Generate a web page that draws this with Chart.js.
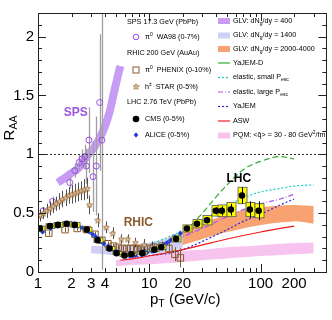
<!DOCTYPE html>
<html><head><meta charset="utf-8">
<script src="https://cdn.jsdelivr.net/npm/chart.js@4.4.1/dist/chart.umd.min.js"></script>
<style>html,body{margin:0;padding:0;background:#fff;}#wrap{width:332px;height:320px;}</style>
</head><body><div id="wrap"><canvas id="c" width="332" height="320"></canvas></div>
<script>
// ---------------- data ----------------
const xTicks=[1,2,3,4,10,20,100,200];
const yTicks=[0,0.5,1,1.5,2];

// SPS 17.3 GeV, WA98 pi0
const wa98Pt=[1.11,1.35,1.93,2.14,2.34,2.49,2.63,2.72,2.87,3.12,3.34,3.58,3.75];
const wa98R =[0.52,0.60,0.76,0.86,0.93,0.96,0.98,0.90,1.12,0.81,0.90,1.44,1.12];
const wa98Err=[0.03,0.04,0.05,0.06,0.07,0.08,0.1,0.15,0.28,0.3,0.42,0.58,1.1];

// RHIC PHENIX pi0
const phenixPt=[1.25,1.75,2.25,2.75,3.25,3.75,4.25,4.75,5.25,5.75,6.25,6.75,7.25,7.75,8.5,9.5,11,13,15,17,19];
const phenixR =[0.33,0.36,0.37,0.36,0.32,0.27,0.24,0.22,0.21,0.20,0.20,0.20,0.20,0.19,0.20,0.20,0.21,0.22,0.20,0.15,0.12];
const phenixErr=[0.02,0.02,0.02,0.02,0.02,0.02,0.02,0.02,0.02,0.02,0.02,0.02,0.02,0.02,0.02,0.02,0.03,0.04,0.05,0.06,0.08];

// RHIC STAR h+-
const starPt=[1.05,1.12,1.2,1.28,1.37,1.46,1.56,1.66,1.77,1.89,2.01,2.15,2.29,2.44,2.6,2.77,2.9,3.45,4.1,4.7,5.6,6.4,7.5,9.0,10.5];
const starR =[0.48,0.50,0.52,0.54,0.56,0.58,0.60,0.62,0.63,0.65,0.66,0.67,0.68,0.69,0.70,0.71,0.57,0.44,0.38,0.33,0.28,0.28,0.25,0.23,0.21];
const starErr=[0.05,0.05,0.06,0.06,0.06,0.06,0.07,0.07,0.07,0.07,0.08,0.08,0.08,0.08,0.09,0.09,0.08,0.06,0.05,0.05,0.04,0.04,0.04,0.05,0.05];

// LHC CMS charged hadrons
const cmsPt=[1.04,1.28,1.51,1.81,2.14,2.74,3.43,4.39,5.08,5.98,6.91,8.66,11.1,12.8,17.4,21.8,26.8,33,39.6,44.8,54,68,80,96];
const cmsR =[0.37,0.39,0.40,0.41,0.40,0.36,0.27,0.20,0.16,0.14,0.15,0.16,0.19,0.21,0.28,0.37,0.41,0.44,0.52,0.52,0.53,0.65,0.53,0.52];
const cmsStat=[0.005,0.005,0.005,0.005,0.005,0.005,0.005,0.005,0.005,0.005,0.005,0.005,0.01,0.01,0.01,0.015,0.02,0.025,0.03,0.04,0.05,0.07,0.07,0.08];
const cmsSys=[0.02,0.02,0.02,0.02,0.02,0.02,0.02,0.015,0.012,0.01,0.01,0.012,0.015,0.02,0.025,0.03,0.035,0.04,0.045,0.05,0.06,0.07,0.06,0.06];

// LHC ALICE charged hadrons
const alicePt=[1.1,1.3,1.5,1.7,1.9,2.1,2.3,2.5,2.7,2.9,3.1,3.3,3.5,3.7,3.9,4.25,4.75,5.25,5.75,6.5,7.5,8.5,9.5,10.5,11.5,12.5,13.5,14.5,15.5,17,19];
const aliceR =[0.34,0.37,0.39,0.40,0.405,0.40,0.39,0.375,0.36,0.34,0.32,0.30,0.28,0.26,0.24,0.22,0.19,0.17,0.155,0.145,0.14,0.15,0.165,0.18,0.195,0.21,0.23,0.25,0.27,0.30,0.33];

// Models
const glv400Pt=[1.5,1.75,2.0,2.3,2.6,2.9,3.2,3.6,4.0,4.4,4.8,5.2,5.5];
const glv400R =[0.76,0.80,0.84,0.88,0.95,1.01,1.06,1.14,1.24,1.36,1.52,1.66,1.75];

const glv1400Pt=[3,4,5,7,10,14,20];
const glv1400Lo=[0.16,0.15,0.14,0.14,0.15,0.17,0.20];
const glv1400Hi=[0.22,0.22,0.22,0.23,0.25,0.28,0.32];

const glvLhcPt=[7,10,15,20,30,50,100,200,300];
const glvLhcLo=[0.15,0.17,0.20,0.23,0.28,0.34,0.40,0.43,0.41];
const glvLhcHi=[0.20,0.24,0.29,0.34,0.41,0.49,0.55,0.57,0.56];

const pqmPt=[5,7,10,12,20,30,50,80,150,300];
const pqmLo=[0.05,0.06,0.065,0.07,0.085,0.10,0.115,0.13,0.145,0.16];
const pqmHi=[0.10,0.12,0.14,0.16,0.18,0.19,0.21,0.22,0.24,0.25];

const yajemDPt=[9,12,15,20,25,30,40,50,70,100,150,200];
const yajemDR =[0.18,0.22,0.27,0.33,0.42,0.50,0.64,0.74,0.87,0.94,0.98,0.96];

const elSmallPt=[8,10,15,20,30,50,70,100,150,200,300];
const elSmallR =[0.20,0.23,0.30,0.35,0.44,0.56,0.63,0.68,0.71,0.73,0.74];

const elLargePt=[8,10,15,20,30,50,70,100,150,200];
const elLargeR =[0.18,0.20,0.25,0.30,0.37,0.47,0.53,0.58,0.62,0.66];

const yajemPt=[6,10,15,20,30,50,70,100,150,200];
const yajemR =[0.12,0.14,0.16,0.19,0.26,0.36,0.43,0.49,0.57,0.62];

const aswPt=[5.5,8,12,20,30,50,100,150,200];
const aswR =[0.10,0.12,0.15,0.19,0.23,0.28,0.34,0.37,0.39];

// ---------------- helpers ----------------
const pts=(xs,ys)=>xs.map((x,i)=>({x:x,y:ys[i]}));
const C={
  glv400:'#c89cf4', glv1400:'#cfcff7', glvLhc:'#f9a271', pqm:'#f7c4ef',
  green:'#33aa33', cyan:'#11cccc', violet:'#a455ee', blue:'#2a2ae0', red:'#ee1a1a',
  wa98:'#9a4aee', phenix:'#8b5a2b', star:'#9b6b3b', cms:'#000000', alice:'#1b3fd6', yellow:'#ffff00'
};
function starImg(size){
  const c=document.createElement('canvas'); c.width=size; c.height=size;
  const g=c.getContext('2d'); const cx=size/2, cy=size/2+0.3, R=size/2-0.5, r=R*0.45;
  g.beginPath();
  for(let i=0;i<10;i++){const a=-Math.PI/2+i*Math.PI/5; const rr=i%2?r:R; g.lineTo(cx+rr*Math.cos(a),cy+rr*Math.sin(a));}
  g.closePath(); g.fillStyle='#e8d3ae'; g.fill(); g.strokeStyle=C.star; g.lineWidth=0.9; g.stroke();
  return c;
}
const starMarker=starImg(7);

const datasets=[];
function addBand(xs,lo,hi,color,order){
  const i=datasets.length;
  datasets.push({data:pts(xs,lo),borderWidth:0,pointRadius:0,fill:false,order:order,tension:0.3});
  datasets.push({data:pts(xs,hi),borderWidth:0,pointRadius:0,fill:{target:i},backgroundColor:color,order:order,tension:0.3});
}
addBand(pqmPt,pqmLo,pqmHi,C.pqm,20);
addBand(glv1400Pt,glv1400Lo,glv1400Hi,C.glv1400,20);
addBand(glvLhcPt,glvLhcLo,glvLhcHi,C.glvLhc,20);
datasets.push({data:pts(glv400Pt,glv400R),borderColor:C.glv400,borderWidth:8,borderCapStyle:'butt',pointRadius:0,fill:false,order:19,tension:0.3});
function addLine(xs,ys,color,dash,order){
  datasets.push({data:pts(xs,ys),borderColor:color,borderWidth:1.2,borderDash:dash,pointRadius:0,fill:false,order:order,cubicInterpolationMode:'monotone'});
}
addLine(aswPt,aswR,C.red,[],10);
addLine(yajemPt,yajemR,C.blue,[2,2],10);
addLine(elLargePt,elLargeR,C.violet,[5,2,1,2],10);
addLine(elSmallPt,elSmallR,C.cyan,[2,2],10);
addLine(yajemDPt,yajemDR,C.green,[6,3],10);
datasets.push({data:pts(phenixPt,phenixR),showLine:false,pointStyle:'rect',pointRadius:4.6,borderColor:C.phenix,borderWidth:1,backgroundColor:'rgba(0,0,0,0)',order:5,errY:phenixErr,errColor:'#8b5a2b'});
datasets.push({data:pts(wa98Pt,wa98R),showLine:false,pointStyle:'circle',pointRadius:3,borderColor:C.wa98,borderWidth:1,backgroundColor:'rgba(255,255,255,0)',order:4,errY:wa98Err,errColor:'#a0a0a0',errWidth:1.3});
datasets.push({data:pts(starPt,starR),showLine:false,pointStyle:starMarker,pointRadius:3.5,order:3,errY:starErr,errColor:'#222',errWidth:0.8});
datasets.push({data:pts(alicePt,aliceR),showLine:false,pointStyle:'rectRot',pointRadius:2.6,borderWidth:0,backgroundColor:C.alice,order:2});
datasets.push({data:pts(cmsPt,cmsR),showLine:false,pointStyle:'circle',pointRadius:3.3,borderWidth:0,backgroundColor:C.cms,order:1,errY:cmsStat,errColor:'#000',sysY:cmsSys});

// text helpers
function richText(ctx,x,y,parts,size,color,align){
  ctx.save(); ctx.fillStyle=color; ctx.textBaseline='middle';
  let w=0; const meas=parts.map(p=>{ctx.font=(p[1]?size*0.7:size)+'px "Liberation Sans", Arial, sans-serif'; const m=ctx.measureText(p[0]).width; w+=m; return m;});
  let cx=align==='center'?x-w/2:x;
  parts.forEach((p,i)=>{ctx.font=(p[1]?size*0.7:size)+'px "Liberation Sans", Arial, sans-serif';
    const dy=p[1]==='sub'?size*0.3:p[1]==='sup'?-size*0.35:0; ctx.fillText(p[0],cx,y+dy); cx+=meas[i];});
  ctx.restore();
}

const deco={
  id:'deco',
  beforeDatasetDraw(chart,args){
    const ds=chart.data.datasets[args.index]; if(!ds.errY) return;
    const xs=chart.scales.x, ys=chart.scales.y, ctx=chart.ctx;
    ctx.save();
    const ca=chart.chartArea; ctx.beginPath(); ctx.rect(ca.left,ca.top,ca.right-ca.left,ca.bottom-ca.top); ctx.clip();
    ds.data.forEach((p,i)=>{
      const px=Math.round(xs.getPixelForValue(p.x))+0.5;
      if(ds.sysY){
        const t=ys.getPixelForValue(p.y+ds.sysY[i]), b=ys.getPixelForValue(p.y-ds.sysY[i]);
        ctx.fillStyle=C.yellow; ctx.fillRect(px-4.5,t,9,b-t);
        ctx.strokeStyle='#555'; ctx.lineWidth=0.8; ctx.strokeRect(px-4.5,t,9,b-t);
      }
      const e=ds.errY[i];
      ctx.strokeStyle=ds.errColor; ctx.lineWidth=ds.errWidth||1;
      ctx.beginPath(); ctx.moveTo(px,ys.getPixelForValue(p.y+e)); ctx.lineTo(px,ys.getPixelForValue(p.y-e)); ctx.stroke();
    });
    ctx.restore();
  },
  afterDraw(chart){
    const ctx=chart.ctx, xs=chart.scales.x, ys=chart.scales.y, ca=chart.chartArea;
    ctx.save();
    ctx.strokeStyle='#333'; ctx.lineWidth=1; ctx.setLineDash([2,2]);
    const y1=Math.round(ys.getPixelForValue(1))+0.5;
    ctx.beginPath(); ctx.moveTo(ca.left,y1); ctx.lineTo(ca.right,y1); ctx.stroke();
    ctx.setLineDash([]);
    ctx.strokeStyle='#222'; ctx.lineWidth=1;
    ctx.strokeRect(Math.round(ca.left)+0.5,Math.round(ca.top)+0.5,Math.round(ca.right-ca.left),Math.round(ca.bottom-ca.top));
    ctx.beginPath();
    for(let d=1; d<=100; d*=10){ for(let m=1;m<10;m++){ const v=d*m; if(v>xs.max) break;
      const px=Math.round(xs.getPixelForValue(v))+0.5; const L=(m===1)?8:4;
      ctx.moveTo(px,ca.bottom); ctx.lineTo(px,ca.bottom-L); ctx.moveTo(px,ca.top); ctx.lineTo(px,ca.top+L);} }
    for(let k=0;k<=22;k++){ const v=k/10; const py=Math.round(ys.getPixelForValue(v))+0.5; const L=(k%5===0)?8:4;
      ctx.moveTo(ca.left,py); ctx.lineTo(ca.left+L,py); ctx.moveTo(ca.right,py); ctx.lineTo(ca.right-L,py);}
    ctx.stroke();
    ctx.font='bold 12px "Liberation Sans", Arial, sans-serif'; ctx.textAlign='center'; ctx.textBaseline='middle';
    ctx.fillStyle='#9b55dd'; ctx.fillText('SPS',xs.getPixelForValue(2.18),ys.getPixelForValue(1.35));
    ctx.fillStyle='#8b5a2b'; ctx.fillText('RHIC',xs.getPixelForValue(7.97),ys.getPixelForValue(0.42));
    ctx.fillStyle='#000'; ctx.fillText('LHC',xs.getPixelForValue(63.6),ys.getPixelForValue(0.79));
    ctx.textAlign='left';
    richText(ctx,150,300,[['p'],['T','sub'],[' (GeV/c)']],15,'#000','left');
    ctx.save(); ctx.translate(10,128); ctx.rotate(-Math.PI/2);
    richText(ctx,0,0,[['R'],['AA','sub']],15,'#000','center'); ctx.restore();
    const fs=7.2;
    richText(ctx,127,22,[['SPS 17.3 GeV (PbPb)']],fs,'#000','left');
    richText(ctx,145,37,[['\u03c0'],['0','sup'],['  WA98 (0-7%)']],fs,'#000','left');
    richText(ctx,127,53,[['RHIC 200 GeV (AuAu)']],fs,'#000','left');
    richText(ctx,145,70,[['\u03c0'],['0','sup'],['  PHENIX (0-10%)']],fs,'#000','left');
    richText(ctx,145,87,[['h'],['\u00b1','sup'],['  STAR (0-5%)']],fs,'#000','left');
    richText(ctx,127,102,[['LHC 2.76 TeV (PbPb)']],fs,'#000','left');
    richText(ctx,145,119,[['CMS (0-5%)']],fs,'#000','left');
    richText(ctx,145,135,[['ALICE (0-5%)']],fs,'#000','left');
    ctx.strokeStyle=C.wa98; ctx.lineWidth=1; ctx.beginPath(); ctx.arc(136,37,2.8,0,Math.PI*2); ctx.stroke();
    ctx.strokeStyle=C.phenix; ctx.strokeRect(133,67,6,6);
    ctx.drawImage(starMarker,132.5,83);
    ctx.fillStyle='#000'; ctx.beginPath(); ctx.arc(136,119,3.3,0,Math.PI*2); ctx.fill();
    ctx.fillStyle=C.alice; ctx.beginPath(); ctx.moveTo(136,132.3); ctx.lineTo(138.3,135); ctx.lineTo(136,137.7); ctx.lineTo(133.7,135); ctx.closePath(); ctx.fill();
    const rows=[21,35.5,49,63,77.5,92,106.5,121,135.5];
    [C.glv400,C.glv1400,C.glvLhc].forEach((c,i)=>{ctx.fillStyle=c; ctx.fillRect(218,rows[i]-3,12,6);});
    const lines=[[C.green,[]],[C.cyan,[2,2]],[C.violet,[5,2,1,2]],[C.blue,[2,2]],[C.red,[]]];
    lines.forEach((l,i)=>{ctx.strokeStyle=l[0]; ctx.setLineDash(l[1]); ctx.lineWidth=1.2; ctx.beginPath(); ctx.moveTo(218,rows[i+3]); ctx.lineTo(230,rows[i+3]); ctx.stroke();});
    ctx.setLineDash([]);
    ctx.fillStyle=C.pqm; ctx.fillRect(218,rows[8]-3,12,6);
    richText(ctx,233,rows[0],[['GLV: dN'],['g','sub'],['/dy = 400']],fs,'#000','left');
    richText(ctx,233,rows[1],[['GLV: dN'],['g','sub'],['/dy = 1400']],fs,'#000','left');
    richText(ctx,233,rows[2],[['GLV: dN'],['g','sub'],['/dy = 2000-4000']],fs,'#000','left');
    richText(ctx,233,rows[3],[['YaJEM-D']],fs,'#000','left');
    richText(ctx,233,rows[4],[['elastic, small P'],['esc','sub']],fs,'#000','left');
    richText(ctx,233,rows[5],[['elastic, large P'],['esc','sub']],fs,'#000','left');
    richText(ctx,233,rows[6],[['YaJEM']],fs,'#000','left');
    richText(ctx,233,rows[7],[['ASW']],fs,'#000','left');
    richText(ctx,233,rows[8],[['PQM: <q\u0302> = 30 - 80 GeV'],['2','sup'],['/fm']],fs,'#000','left');
    ctx.restore();
  }
};

new Chart(document.getElementById('c'),{
  type:'line',
  data:{datasets:datasets},
  options:{
    responsive:false, animation:false, devicePixelRatio:1,
    layout:{padding:{top:3,right:4,left:0,bottom:0}},
    plugins:{legend:{display:false},tooltip:{enabled:false}},
    elements:{line:{borderJoinStyle:'round'}},
    scales:{
      x:{type:'logarithmic',min:1,max:390,
        grid:{display:false,drawTicks:false},border:{display:false},
        afterBuildTicks:s=>{s.ticks=xTicks.map(v=>({value:v}));},
        afterFit:s=>{s.height=48;},
        ticks:{autoSkip:false,maxRotation:0,padding:3,color:'#000',font:{family:'"Liberation Sans", Arial, sans-serif',size:15},callback:v=>String(v)}},
      y:{type:'linear',min:0,max:2.2,
        grid:{display:false,drawTicks:false},border:{display:false},
        afterBuildTicks:s=>{s.ticks=yTicks.map(v=>({value:v}));},
        afterFit:s=>{s.width=38;},
        ticks:{padding:4,color:'#000',font:{family:'"Liberation Sans", Arial, sans-serif',size:15},callback:v=>String(v)}}
    }
  },
  plugins:[deco]
});
</script></body></html>
